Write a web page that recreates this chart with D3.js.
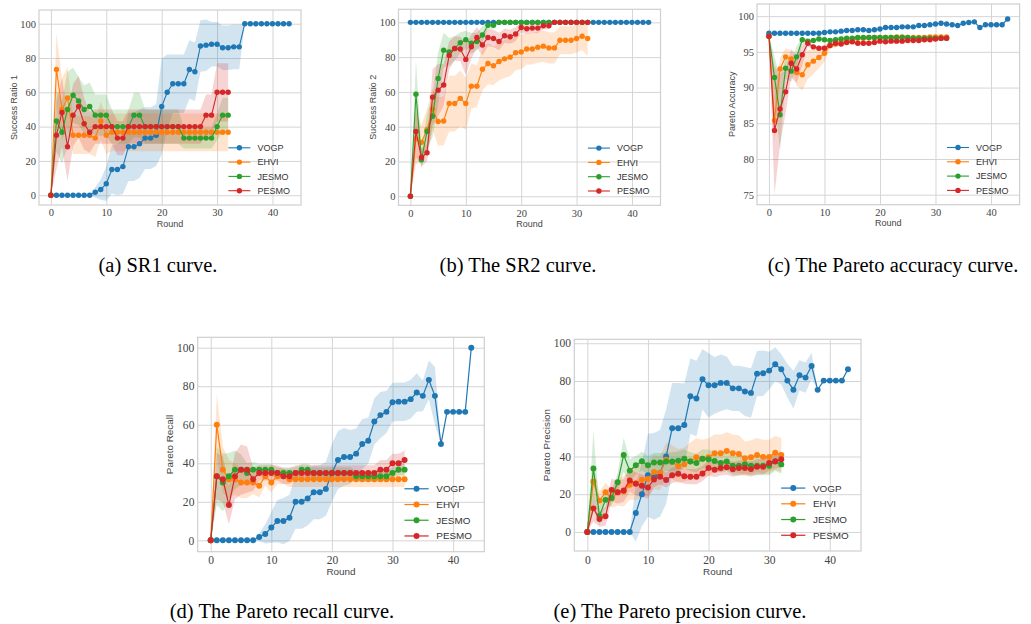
<!DOCTYPE html>
<html>
<head>
<meta charset="utf-8">
<script src="https://cdn.jsdelivr.net/npm/d3@7/dist/d3.min.js"></script>
<style>
  body { margin: 0; background: #fff; }
</style>
</head>
<body>
<svg id="fig" width="1031" height="624"></svg>
<script>
"use strict"

/* Series names and colours */
let seriesNames = ["VOGP", "EHVI", "JESMO", "PESMO"];
let seriesColors = ["#1f77b4", "#ff7f0e", "#2ca02c", "#d62728"];
let xTickValues = [0, 10, 20, 30, 40];

/* (a) Success ratio 1 : means and std */
let sr1Vogp = [0,0,0,0,0,0,0,0,1.7,3.3,6.7,15,15,16.7,28.3,28.3,30,33.3,33.3,35,51.7,60,65,65,65,73.3,72,87,87.5,88,88,86,86,86.5,86.5,100,100,100,100,100,100,100,100,100];
let sr1VogpSd = [0,0,0,0,0,0,0,0,3,6,10,14,15,16,20,20,20,18,18,18,28,22,17,17,17,17,17,15,15,13,13,13,13,13,13,0,0,0,0,0,0,0,0,0];
let sr1Ehvi = [0,73.3,50,56.7,35,35,35,35,33.3,43.3,35,36.7,36.7,36.7,36.7,36.7,36.7,36.7,36.7,36.7,36.7,36.7,36.7,36.7,36.7,36.7,36.7,36.7,36.7,36.7,36.7,36.7,36.7];
let sr1EhviSd = [0,21,18,18,11,11,11,11,11,11,11,11,11,11,11,11,11,11,11,11,11,11,11,11,11,11,11,11,11,11,11,11,11];
let sr1Jesmo = [0,43.3,36.7,50,58.3,55,50,51.7,46.7,46.7,46.7,40,40,40,40,46.7,46.7,40,40,40,40,40,40,40,33.3,33.3,33.3,33.3,33.3,33.3,40,46.7,46.7];
let sr1JesmoSd = [0,18,18,22,16,14,14,14,12,12,12,10,10,10,10,13,13,10,10,10,10,10,10,10,6,6,6,6,6,6,8,10,10];
let sr1Pesmo = [0,35,48.3,28.3,46.7,51.7,41.7,36.7,40,40,40,40,33.3,33.3,40,40,40,40,40,40,40,40,40,40,40,40,40,40,46.7,46.7,60,60,60];
let sr1PesmoSd = [0,20,20,20,18,18,15,12,10,10,10,10,10,10,10,10,10,10,10,10,10,10,10,10,10,10,10,10,12,12,17,17,17];

/* (b) Success ratio 2 */
let sr2Vogp = [100,100,100,100,100,100,100,100,100,100,100,100,100,100,100,100,100,100,100,100,100,100,100,100,100,100,100,100,100,100,100,100,100,100,100,100,100,100,100,100,100,100,100,100];
let sr2VogpSd = [0,0,0,0,0,0,0,0,0,0,0,0,0,0,0,0,0,0,0,0,0,0,0,0,0,0,0,0,0,0,0,0,0,0,0,0,0,0,0,0,0,0,0,0];
let sr2Ehvi = [0,33,31,38.3,50,43,43.3,53.3,53.3,56.3,53.3,63.3,63.3,73,76.3,75,77.5,79,80,82.5,83,84.7,84.7,85.7,86.3,85.3,85.3,89.7,89.7,89.7,90.7,92,90.7];
let sr2EhviSd = [0,15,10,12,12,14,14,16,16,16,15,13,12,12,12,11,11,11,11,10,10,9,9,9,9,9,9,8,8,8,8,8,10];
let sr2Jesmo = [0,58.7,21,37.3,46,67.7,84,83,85,88.3,90,88,89,92.7,98.3,98.3,100,100,100,100,100,100,100,100,100,100,100,100,100,100,100,100,100];
let sr2JesmoSd = [0,20,5,10,12,15,10,8,7,6,5,6,5,5,2,2,0,0,0,0,0,0,0,0,0,0,0,0,0,0,0,0,0];
let sr2Pesmo = [0,37.3,22.3,25,57,61,64,81,85,84.7,78.7,86,91.3,87,91.3,90.7,89,92.3,91.7,93.3,97,96.3,96.7,96.7,98,98,100,100,100,100,100,100,100];
let sr2PesmoSd = [0,15,5,5,16,15,12,8,7,7,9,7,6,6,5,5,5,4,4,4,3,3,3,3,2,2,0,0,0,0,0,0,0];

/* (c) Pareto accuracy */
let accVogp = [97.6,97.6,97.6,97.6,97.6,97.6,97.6,97.6,97.6,97.6,97.7,97.8,97.8,97.9,98.0,98.0,98.1,98.1,98.0,98.1,98.2,98.4,98.4,98.4,98.5,98.5,98.5,98.7,98.7,98.8,98.9,99.0,98.9,98.8,98.7,99.0,99.1,99.2,98.4,98.8,98.8,98.8,98.8,99.6];
let accVogpSd = [0,0,0,0,0,0,0,0,0,0,0,0,0,0,0,0,0,0,0,0,0,0,0,0,0,0,0,0,0,0,0,0,0,0,0,0,0,0,0,0,0,0,0,0];
let accEhvi = [97.2,85.4,92.6,94.3,94.0,92.1,91.8,93.2,93.7,94.2,94.8,95.9,96.1,96.3,96.5,96.6,96.9,96.9,97.0,97.0,97.0,97.0,97.0,97.1,97.1,97.0,97.0,97.0,97.0,97.1,97.1,97.1,97.1];
let accEhviSd = [0,3,1.5,1.2,1.2,1.8,2.2,2,1.8,1.5,1.2,0.5,0.4,0.4,0.3,0.3,0.3,0.3,0.3,0.3,0.3,0.3,0.3,0.3,0.3,0.3,0.3,0.3,0.3,0.3,0.3,0.3,0.3];
let accJesmo = [97.2,91.4,86.2,92.7,92.3,94.3,96.7,96.5,96.6,96.8,96.7,96.6,96.7,96.8,96.9,96.9,97.0,97.0,97.0,97.0,97.0,97.0,97.0,97.0,97.0,97.0,96.9,96.9,96.9,96.9,96.9,96.9,96.9];
let accJesmoSd = [0,3,5,1.5,1.5,1.5,0.4,0.3,0.3,0.3,0.3,0.3,0.3,0.3,0.3,0.3,0.3,0.3,0.3,0.3,0.3,0.3,0.3,0.3,0.3,0.3,0.3,0.3,0.3,0.3,0.3,0.3,0.3];
let accPesmo = [97.2,84.0,87.0,89.4,93.4,92.6,94.6,96.2,95.7,95.5,95.5,95.9,96.2,96.1,96.3,96.4,96.2,96.2,96.2,96.3,96.5,96.4,96.5,96.5,96.5,96.6,96.6,96.6,96.7,96.7,96.8,96.9,96.9];
let accPesmoSd = [0,9,5,3,2,2,1.5,0.4,0.3,0.3,0.3,0.3,0.3,0.3,0.3,0.3,0.3,0.3,0.3,0.3,0.3,0.3,0.3,0.3,0.3,0.3,0.3,0.3,0.3,0.3,0.3,0.3,0.3];

/* (d) Pareto recall */
let recVogp = [0,0,0,0,0,0,0,0,1.7,3.3,6.7,10,10,11.7,20,20,21.7,25,25,26.7,35,41.7,43.3,43.3,45,50,51.7,61.7,65,66.7,71.7,72,72,73.3,76.7,75,83.3,75,50,66.7,66.7,66.7,66.7,100];
let recVogpSd = [0,0,0,0,0,0,0,0,2,5,8,11,12,12,14,14,14,14,14,14,15,15,15,14,13,13,12,12,12,11,10,10,10,10,10,8,10,15,0,0,0,0,0,0];
let recEhvi = [0,60,36.7,31.7,31.7,30,30,30,28.3,33.3,30,33.3,33.3,31.7,31.7,31.7,31.7,31.7,31.7,31.7,31.7,31.7,31.7,31.7,31.7,31.7,31.7,31.7,31.7,31.7,31.7,31.7,31.7];
let recEhviSd = [0,16,12,10,8,8,8,6,6,5,5,4,4,4,4,4,4,4,4,4,4,4,4,4,4,4,4,4,4,4,4,4,4];
let recJesmo = [0,33.3,30,33.3,36.7,36.7,35,36.7,36.7,36.7,36.7,35,35,35,35,36.7,36.7,35,35,35,35,35,35,35,33.3,33.3,33.3,33.3,33.3,33.3,35,36.7,36.7];
let recJesmoSd = [0,15,15,12,10,8,5,4,3,3,3,3,3,3,3,3,3,3,3,3,3,3,3,3,3,3,3,3,3,3,3,3,3];
let recPesmo = [0,33.3,31.7,18.3,33.3,36.7,36.7,31.7,35,35,35,35,33.3,33.3,35,35,35,35,35,35,35,35,35,35,35,35,35,35,36.7,36.7,40,40,41.7];
let recPesmoSd = [0,12,12,10,12,13,12,6,4,4,4,4,4,4,4,4,4,4,4,4,4,4,4,4,4,4,4,4,5,5,5,5,5];

/* (e) Pareto precision */
let preVogp = [0,0,0,0,0,0,0,0,10,20,30,29.5,31,40,55,55,56.7,71.9,70.7,80.9,77.7,77.7,79,79,76.1,76.1,74.4,73.7,83.9,84.1,85.5,88.9,86.2,80.2,75.4,83,81.8,88,75.3,80.2,80.2,80.2,80.2,86.2];
let preVogpSd = [0,0,0,0,0,0,0,0,15,17,22,23,23,25,24,24,22,20,20,16,17,15,15,14,12,12,13,13,12,12,10,9,8,9,10,8,8,7,0,0,0,0,0,0];
let preEhvi = [0,26.7,16.6,21,17.8,21,21.5,25,25.8,27.7,28.1,31.8,31.1,38.3,37,35,35.8,37.5,39.6,38.8,39.6,41.7,41.7,42.9,41.7,41.3,39,39.6,40.8,39.8,39.8,42,40.8];
let preEhviSd = [0,8,5,5,5,7,8,8,9,9,9,9,9,9,9,9,9,10,10,10,10,10,10,10,10,10,9,9,9,9,9,9,9];
let preJesmo = [0,33.6,8.5,17,18,26.3,40.8,32.5,35.3,37.5,35.3,36.8,36.8,37.3,37.3,37.8,38.8,37.3,36.5,38.8,38.5,37.6,36.5,37.3,35.1,35.1,35.9,35.1,35.1,35.1,35.1,37.3,35.8];
let preJesmoSd = [0,20,5,5,4,5,9,6,5,5,5,5,5,5,5,5,5,5,5,5,5,5,5,5,5,5,5,5,5,5,5,5,5];
let prePesmo = [0,12.5,6.8,8.3,22.3,21,22,27.3,25.5,24.5,23.6,27.8,29.3,27.5,30,30.8,29.5,29.3,29.3,31,33.9,33,33.9,34.3,33.2,33.9,33.9,33.3,34.5,34.5,36.5,37.5,38.5];
let prePesmoSd = [0,7,4,5,6,6,6,6,6,6,6,4,4,4,4,4,4,4,4,4,4,4,4,4,4,4,4,4,4,4,4,4,4];

/* Panel layout (frame in page pixels) */
let panels = [
    { left: 39, right: 301, top: 10, bottom: 205, yDomain: [-5.7, 108], yTicks: [0, 20, 40, 60, 80, 100],
      yLabel: "Success Ratio 1", caption: "(a) SR1 curve.", capX: 158, capY: 272, s: 1,
      means: [sr1Vogp, sr1Ehvi, sr1Jesmo, sr1Pesmo], sds: [sr1VogpSd, sr1EhviSd, sr1JesmoSd, sr1PesmoSd] },
    { left: 398.5, right: 660.5, top: 9.3, bottom: 205.3, yDomain: [-5.2, 107.5], yTicks: [0, 20, 40, 60, 80, 100],
      yLabel: "Success Ratio 2", caption: "(b) The SR2 curve.", capX: 518, capY: 272, s: 1,
      means: [sr2Vogp, sr2Ehvi, sr2Jesmo, sr2Pesmo], sds: [sr2VogpSd, sr2EhviSd, sr2JesmoSd, sr2PesmoSd] },
    { left: 757, right: 1019.6, top: 4, bottom: 204.7, yDomain: [73.6, 101.7], yTicks: [75, 80, 85, 90, 95, 100],
      yLabel: "Pareto Accuracy", caption: "(c) The Pareto accuracy curve.", capX: 893, capY: 272, s: 1,
      means: [accVogp, accEhvi, accJesmo, accPesmo], sds: [accVogpSd, accEhviSd, accJesmoSd, accPesmoSd] },
    { left: 197.7, right: 484.3, top: 337.3, bottom: 551.7, yDomain: [-5.9, 105.4], yTicks: [0, 20, 40, 60, 80, 100],
      yLabel: "Pareto Recall", caption: "(d) The Pareto recall curve.", capX: 282, capY: 618, s: 1.1,
      means: [recVogp, recEhvi, recJesmo, recPesmo], sds: [recVogpSd, recEhviSd, recJesmoSd, recPesmoSd] },
    { left: 574.3, right: 861, top: 339.3, bottom: 551, yDomain: [-10.1, 102.1], yTicks: [0, 20, 40, 60, 80, 100],
      yLabel: "Pareto Precision", caption: "(e) The Pareto precision curve.", capX: 680, capY: 618, s: 1.1,
      means: [preVogp, preEhvi, preJesmo, prePesmo], sds: [preVogpSd, preEhviSd, preJesmoSd, prePesmoSd] }
];

let svg = d3.select("#fig");
let gridColor = "#d5d5d5";
let tickFont = "'Liberation Serif', serif";
let labelFont = "'Liberation Sans', Arial, sans-serif";

function drawPanel(p) {
    let s = p.s;
    let g = svg.append("g");
    let x = d3.scaleLinear().domain([-2.15, 45.15]).range([p.left, p.right]);
    let y = d3.scaleLinear().domain(p.yDomain).range([p.bottom, p.top]);
    let w = p.right - p.left;
    let h = p.bottom - p.top;

    /* grid + tick labels via axes */
    let xAxis = g.append("g")
        .attr("transform", "translate(0," + p.bottom + ")")
        .call(d3.axisBottom(x).tickValues(xTickValues).tickSize(-h).tickPadding(4 * s).tickFormat(d3.format("d")));
    let yAxis = g.append("g")
        .attr("transform", "translate(" + p.left + ",0)")
        .call(d3.axisLeft(y).tickValues(p.yTicks).tickSize(-w).tickPadding(3 * s).tickFormat(d3.format("d")));
    [xAxis, yAxis].forEach(function (ax) {
        ax.select(".domain").remove();
        ax.selectAll("line").attr("stroke", gridColor).attr("stroke-width", 1);
        ax.selectAll("text")
            .attr("fill", "#444")
            .style("font-family", tickFont)
            .style("font-size", (10.5 * s) + "px");
    });

    /* bands first (drawn below all lines) */
    p.means.forEach(function (m, k) {
        let area = d3.area()
            .x(function (d, i) { return x(i); })
            .y0(function (d, i) { return y(d - p.sds[k][i]); })
            .y1(function (d, i) { return y(d + p.sds[k][i]); });
        g.append("path")
            .attr("d", area(m))
            .attr("fill", seriesColors[k])
            .attr("fill-opacity", 0.2)
            .attr("stroke", "none");
    });

    /* lines and markers */
    p.means.forEach(function (m, k) {
        let line = d3.line()
            .x(function (d, i) { return x(i); })
            .y(function (d) { return y(d); });
        g.append("path")
            .attr("d", line(m))
            .attr("fill", "none")
            .attr("stroke", seriesColors[k])
            .attr("stroke-width", 1.1 * s);
        g.selectAll(null)
            .data(m)
            .join("circle")
            .attr("cx", function (d, i) { return x(i); })
            .attr("cy", function (d) { return y(d); })
            .attr("r", 2.7 * s)
            .attr("fill", seriesColors[k]);
    });

    /* frame */
    g.append("rect")
        .attr("x", p.left)
        .attr("y", p.top)
        .attr("width", w)
        .attr("height", h)
        .attr("fill", "none")
        .attr("stroke", "#cfcfcf")
        .attr("stroke-width", 1.2);

    /* axis labels */
    g.append("text")
        .attr("x", (p.left + p.right) / 2)
        .attr("y", p.bottom + 18.3 * s + 3.2 * s)
        .attr("text-anchor", "middle")
        .attr("fill", "#444")
        .style("font-family", labelFont)
        .style("font-size", (9 * s) + "px")
        .text("Round");
    g.append("text")
        .attr("transform", "translate(" + (p.left - 25.5 * s + 3.2 * s) + "," + ((p.top + p.bottom) / 2) + ") rotate(-90)")
        .attr("text-anchor", "middle")
        .attr("fill", "#444")
        .style("font-family", labelFont)
        .style("font-size", (9 * s) + "px")
        .text(p.yLabel);

    /* legend, lower right, no frame */
    let lx = p.right - 72.6 * s;
    seriesNames.forEach(function (name, k) {
        let ly = p.bottom - 14.3 * s - (3 - k) * 14.3 * s;
        g.append("line")
            .attr("x1", lx).attr("x2", lx + 22 * s)
            .attr("y1", ly).attr("y2", ly)
            .attr("stroke", seriesColors[k])
            .attr("stroke-width", 1.1 * s);
        g.append("circle")
            .attr("cx", lx + 11 * s).attr("cy", ly)
            .attr("r", 2.7 * s)
            .attr("fill", seriesColors[k]);
        g.append("text")
            .attr("x", lx + 29 * s)
            .attr("y", ly + 3.2 * s)
            .attr("fill", "#333")
            .style("font-family", labelFont)
            .style("font-size", (9 * s) + "px")
            .text(name);
    });

    /* caption */
    svg.append("text")
        .attr("x", p.capX)
        .attr("y", p.capY)
        .attr("text-anchor", "middle")
        .attr("fill", "#000")
        .style("font-family", "'Liberation Serif', 'Times New Roman', serif")
        .style("font-size", "20.5px")
        .text(p.caption);
}

panels.forEach(drawPanel);
</script>
</body>
</html>
